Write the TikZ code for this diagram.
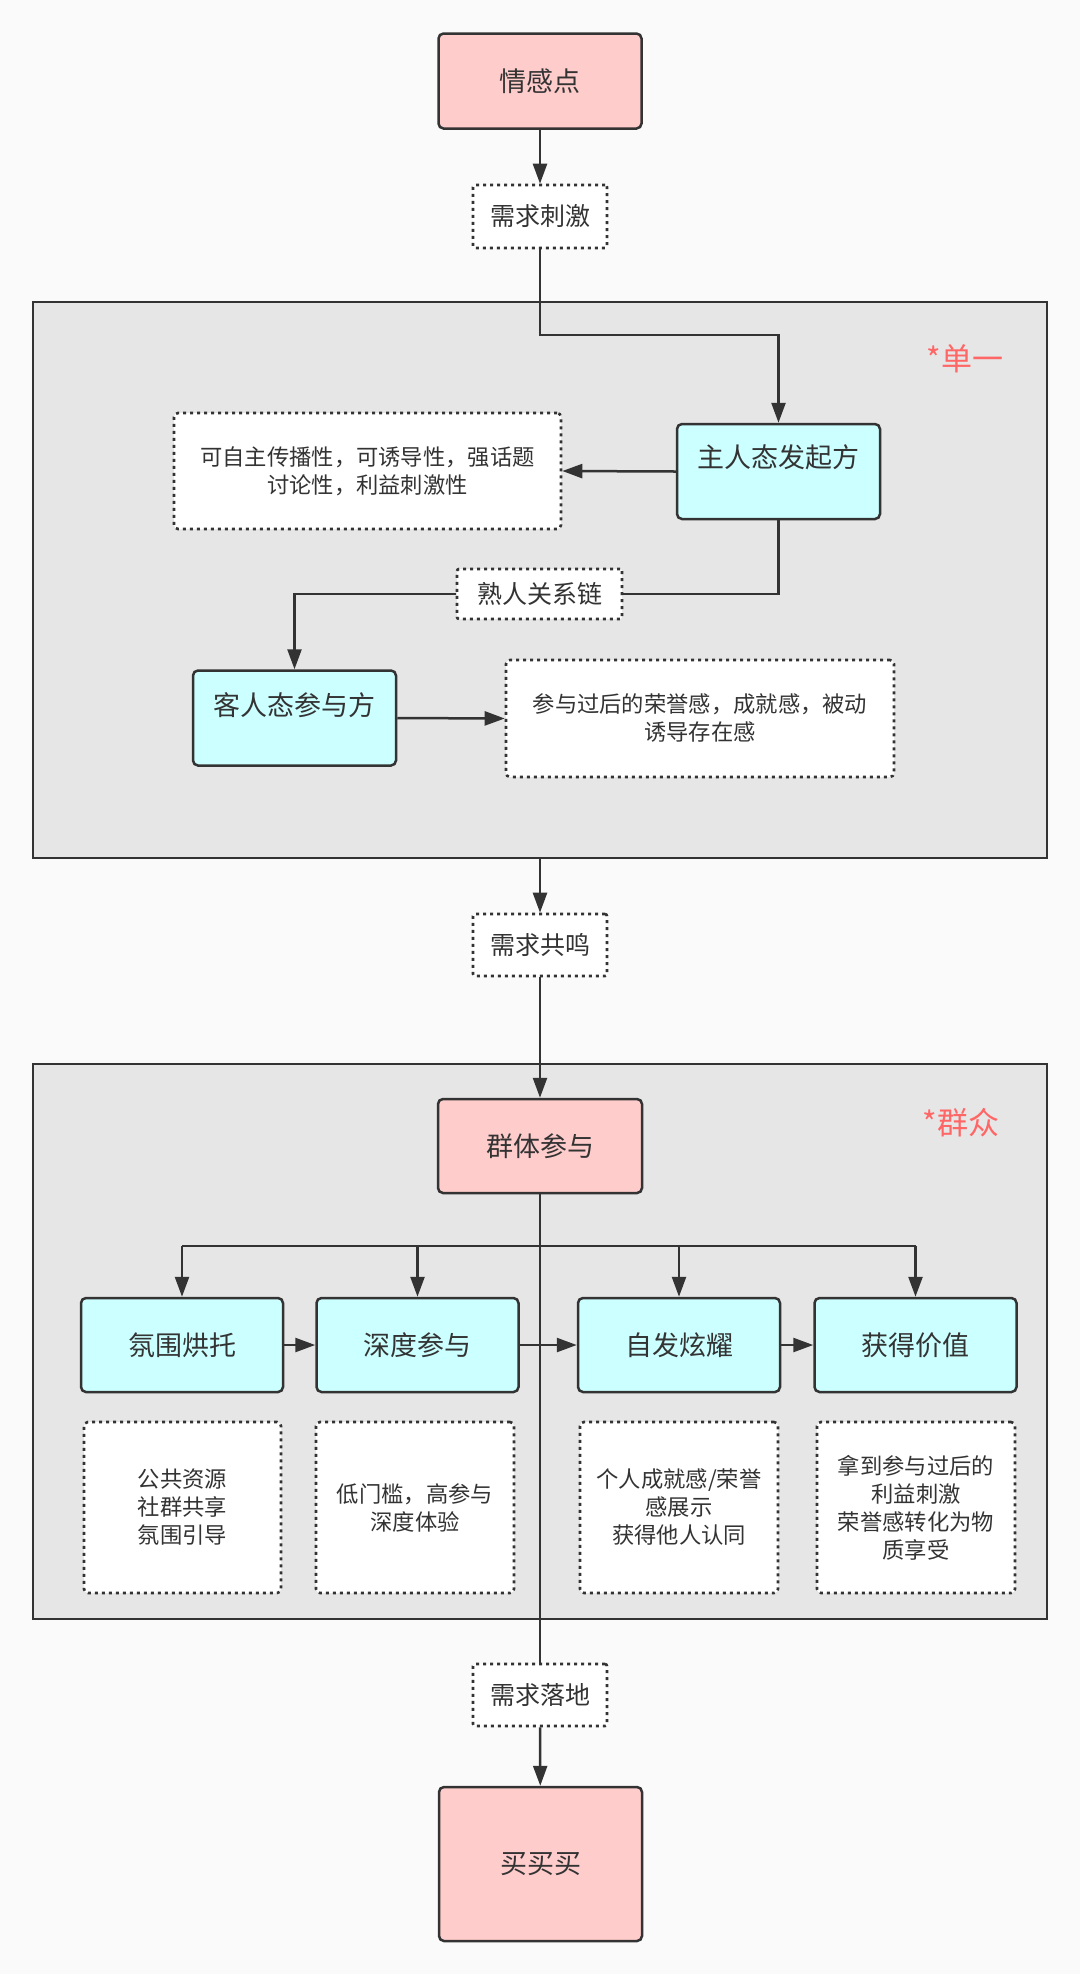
\documentclass[tikz,border=0pt]{standalone}
\usepackage{fontspec}
\setmainfont{Noto Sans CJK SC}
\usetikzlibrary{arrows.meta}
\definecolor{bgc}{HTML}{FAFAFA}
\definecolor{grpc}{HTML}{E6E6E6}
\definecolor{lnc}{HTML}{333333}
\definecolor{pinkc}{HTML}{FFCCCC}
\definecolor{cyanc}{HTML}{CCFFFF}
\definecolor{redc}{HTML}{FF6666}
\begin{document}
\begin{tikzpicture}[x=1pt,y=-1pt,
  box/.style={draw=lnc, line width=2.5pt, rounded corners=5pt, text=lnc, inner sep=0pt,
    minimum width=203pt, minimum height=95pt, align=center, font=\fontsize{27}{32}\selectfont},
  pinkbox/.style={box, fill=pinkc},
  cyanbox/.style={box, fill=cyanc},
  notebox/.style={draw=lnc, line width=2.6pt, dash pattern=on 3pt off 4pt, rounded corners=4pt, fill=white,
    text=lnc, inner sep=0pt, align=center, font=\fontsize{22.3}{28}\selectfont},
  tagbox/.style={notebox, rounded corners=2pt, font=\fontsize{25}{30}\selectfont},
  groupbox/.style={draw=lnc, line width=2.5pt, fill=grpc},
  grouptitle/.style={text=redc, font=\fontsize{31}{36}\selectfont},
  conn/.style={draw=lnc, line width=2.5pt, -{Triangle[length=20pt,width=14pt]}},
  plain/.style={draw=lnc, line width=2.5pt}
]
\fill[bgc] (0,0) rectangle (1080,1974);
\useasboundingbox (0,0) rectangle (1080,1974);

% group frames
\draw[groupbox] (33,302) rectangle (1047,858);
\draw[groupbox] (33,1064) rectangle (1047,1619);
\node[grouptitle] (t1) at (965,359) {*单一};
\node[grouptitle] (t2) at (961,1123) {*群众};

% top
\node[pinkbox] (emo) at (540,81) {情感点};
\node[tagbox, minimum width=134pt, minimum height=63pt] (d1) at (540,216.5) {需求刺激};

% group 1
\node[cyanbox, text depth=30pt] (host) at (778.5,471.5) {主人态发起方};
\node[notebox, minimum width=387pt, minimum height=116pt] (n1) at (367.5,471) {可自主传播性，可诱导性，强话题\\讨论性，利益刺激性};
\node[tagbox, minimum width=165pt, minimum height=50pt] (rel) at (539.5,594) {熟人关系链};
\node[cyanbox, text depth=28pt] (guest) at (294.5,718) {客人态参与方};
\node[notebox, minimum width=388pt, minimum height=117pt] (n2) at (700,718.5) {参与过后的荣誉感，成就感，被动\\诱导存在感};

\node[tagbox, minimum width=134pt, minimum height=62pt] (d2) at (540,945) {需求共鸣};

% group 2
\node[pinkbox, minimum width=204pt, minimum height=94pt] (crowd) at (540,1146) {群体参与};
\node[cyanbox, minimum width=202pt, minimum height=94pt] (b1) at (182,1345) {氛围烘托};
\node[cyanbox, minimum width=202pt, minimum height=94pt] (b2) at (417.5,1345) {深度参与};
\node[cyanbox, minimum width=202pt, minimum height=94pt] (b3) at (679,1345) {自发炫耀};
\node[cyanbox, minimum width=202pt, minimum height=94pt] (b4) at (915.5,1345) {获得价值};
\node[notebox, minimum width=197pt, minimum height=171pt] (n3) at (182.5,1507.5) {公共资源\\社群共享\\氛围引导};
\node[notebox, minimum width=198pt, minimum height=171pt] (n4) at (415,1507.5) {低门槛，高参与\\深度体验};
\node[notebox, minimum width=198pt, minimum height=171pt] (n5) at (679,1507.5) {个人成就感/荣誉\\感展示\\获得他人认同};
\node[notebox, minimum width=198pt, minimum height=171pt] (n6) at (916,1507.5) {拿到参与过后的\\利益刺激\\荣誉感转化为物\\质享受};

\node[tagbox, minimum width=134pt, minimum height=62pt] (d3) at (540,1695) {需求落地};
\node[pinkbox, minimum width=203pt, minimum height=154pt] (buy) at (540.5,1864) {买买买};

% connectors
\draw[conn] (emo) -- (d1);
\coordinate (k1) at (540,335);
\draw[conn] (d1.south) -- (k1) -| (host.north);
\draw[conn] (host.west) -- (n1.east);
\draw[plain] (host.south) |- (rel.east);
\draw[conn] (rel.west) -| (guest.north);
\draw[conn] (guest.east) -- (n2.west);

\draw[conn] (540,858) -- (d2.north);
\draw[conn] (d2.south) -- (crowd.north);

\coordinate (br) at (540,1246);
\draw[plain] (crowd.south) -- (d3.north);
\draw[plain] (b1.north |- br) -- (b4.north |- br);
\draw[conn] (b1.north |- br) -- (b1.north);
\draw[conn] (b2.north |- br) -- (b2.north);
\draw[conn] (b3.north |- br) -- (b3.north);
\draw[conn] (b4.north |- br) -- (b4.north);
\draw[conn] (b1.east) -- (b2.west);
\draw[conn] (b2.east) -- (b3.west);
\draw[conn] (b3.east) -- (b4.west);

\draw[conn] (d3) -- (buy);
\end{tikzpicture}
\end{document}
